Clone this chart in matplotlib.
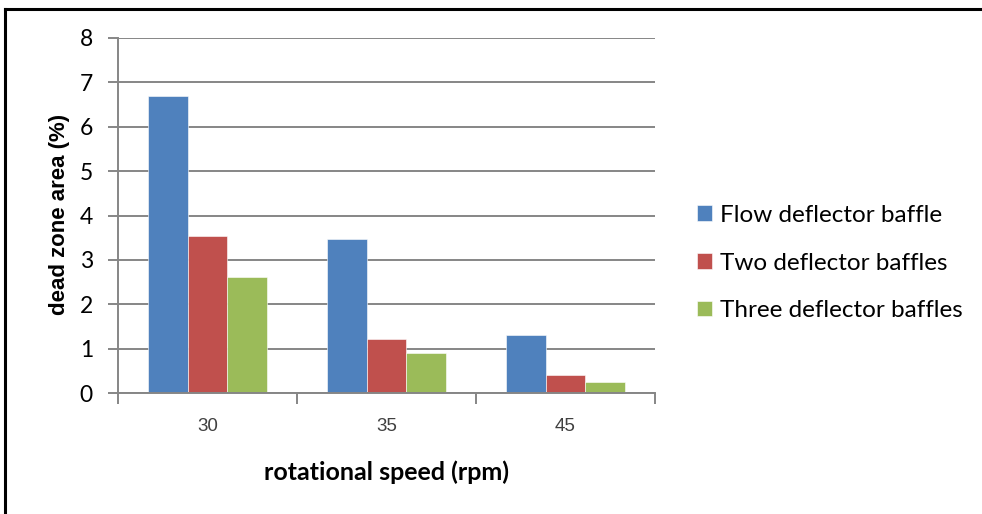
import matplotlib
matplotlib.use("Agg")
import matplotlib.pyplot as plt
from matplotlib.lines import Line2D
import numpy as np

# Dead zone area for each baffle configuration at each rotational speed
speeds = ["30", "35", "45"]
series_names = ["Flow deflector baffle", "Two deflector baffles", "Three deflector baffles"]
flow_deflector = [6.70, 3.46, 1.31]
two_deflectors = [3.54, 1.22, 0.40]
three_deflectors = [2.61, 0.90, 0.24]
y_ticks = [0, 1, 2, 3, 4, 5, 6, 7, 8]

colors = ["#4F81BD", "#C0504D", "#9BBB59"]
grid_color = "#868686"

W, H = 982, 514
fig = plt.figure(figsize=(W / 100, H / 100), dpi=100)
ax = fig.add_axes([118 / W, (H - 393) / H, (655 - 118) / W, (393 - 38) / H])

x = np.arange(len(speeds))
bar_w = 1 / 4.5  # 150% gap width
values = [flow_deflector, two_deflectors, three_deflectors]
for i, (vals, name, c) in enumerate(zip(values, series_names, colors)):
    ax.bar(x + (i - 1) * bar_w, vals, width=bar_w, color=c, label=name,
           edgecolor="#ffffff", linewidth=0.4, zorder=3)

ax.set_xlim(-0.5, len(speeds) - 0.5)
ax.set_ylim(0, 8)
ax.set_yticks(y_ticks)
ax.set_yticklabels([str(t) for t in y_ticks], fontsize=16.5, family="Lato", color="#000000")
ax.yaxis.grid(True, color=grid_color, linewidth=1.4, zorder=0)
ax.tick_params(axis="y", length=7, width=1.4, color=grid_color, pad=11)

ax.set_xticks(np.arange(len(speeds) + 1) - 0.5)
ax.set_xticklabels([])
ax.tick_params(axis="x", which="major", length=8, width=1.4, color=grid_color)
ax.set_xticks(x, minor=True)
ax.set_xticklabels(speeds, minor=True, fontsize=13.5, family="Liberation Sans", color="#404040")
ax.tick_params(axis="x", which="minor", length=0, pad=18)

for s in ["top", "right"]:
    ax.spines[s].set_visible(False)
for s in ["left", "bottom"]:
    ax.spines[s].set_color(grid_color)
    ax.spines[s].set_linewidth(1.4)
    ax.spines[s].set_zorder(4)

# Axis titles
fig.text(70 / W, (H - 214) / H, "dead zone area (%)", rotation=90,
         ha="right", va="center", fontsize=16, fontweight="bold",
         family="Liberation Sans")
fig.text(387 / W, (H - 472) / H, "rotational speed (rpm)",
         ha="center", va="center", fontsize=18, fontweight="bold", family="Lato")

fig.legend(loc="center left", bbox_to_anchor=(697 / W, (H - 263) / H),
           frameon=False, prop={"family": "Lato", "size": 17.5},
           handlelength=0.6, handleheight=0.6, handletextpad=0.33,
           labelspacing=1.1, borderpad=0, borderaxespad=0)

# Outer frame (left and top edges visible)
fig.add_artist(Line2D([5 / W, 5 / W], [0, (H - 9) / H], color="black", linewidth=2.2,
                      transform=fig.transFigure))
fig.add_artist(Line2D([5 / W, 1], [(H - 9) / H, (H - 9) / H], color="black", linewidth=2.2,
                      transform=fig.transFigure))

fig.savefig("out.png", dpi=100)
